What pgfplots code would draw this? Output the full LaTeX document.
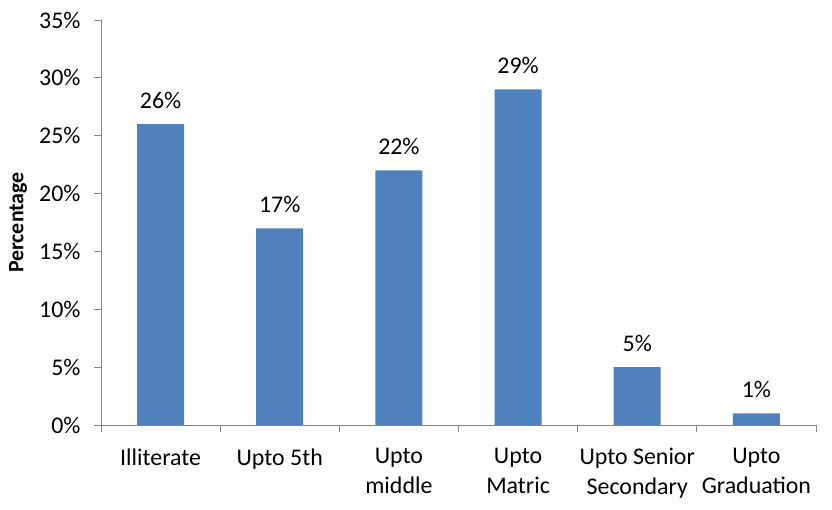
\documentclass[border=0pt]{standalone}
\usepackage{pgfplots}
\pgfplotsset{compat=1.18}
\usepackage{fontspec}
\setmainfont{Carlito}
\definecolor{barblue}{HTML}{4F81BD}
\definecolor{axgray}{HTML}{868686}
\begin{document}
\begin{tikzpicture}
\begin{axis}[
  scale only axis,
  width=715bp, height=405bp,
  ymin=0, ymax=35,
  xmin=-0.5, xmax=5.5,
  axis lines*=left,
  axis line style={axgray, line width=0.9pt},
  ytick={0,5,...,35},
  yticklabels={0\%,5\%,10\%,15\%,20\%,25\%,30\%,35\%},
  xtick={-0.5,0.5,...,5.5},
  xticklabels={},
  extra x ticks={0,1,2,3,4,5},
  extra x tick labels={Illiterate, Upto 5th, {Upto\\middle}, {Upto\\Matric}, {Upto Senior\\Secondary}, {Upto\\Graduation}},
  extra x tick style={major tick length=0pt, xticklabel style={align=center, yshift=-20bp}},
  tick align=outside,
  major tick length=7bp,
  every tick/.style={axgray, line width=0.9pt},
  tick label style={font=\fontsize{24}{30}\selectfont, black},
  yticklabel style={xshift=-10bp},
  ylabel={\textbf{Percentage}},
  ylabel style={font=\fontsize{22}{26}\selectfont, anchor=center, at={(axis description cs:-0.116,0.5)}},
  /pgf/number format/assume math mode=true,
  ybar, bar width=47bp,
  nodes near coords={\pgfmathprintnumber{\pgfplotspointmeta}\%},
  every node near coord/.append style={font=\fontsize{24}{28}\selectfont, black, yshift=12bp},
  clip=false,
]
\addplot[fill=barblue, draw=none] coordinates {(0,26) (1,17) (2,22) (3,29) (4,5) (5,1)};
\end{axis}
\pgfresetboundingbox
\path[use as bounding box] ([shift={(-101bp,-85bp)}]current axis.south west) rectangle ++(832bp,510bp);
\end{tikzpicture}
\end{document}
